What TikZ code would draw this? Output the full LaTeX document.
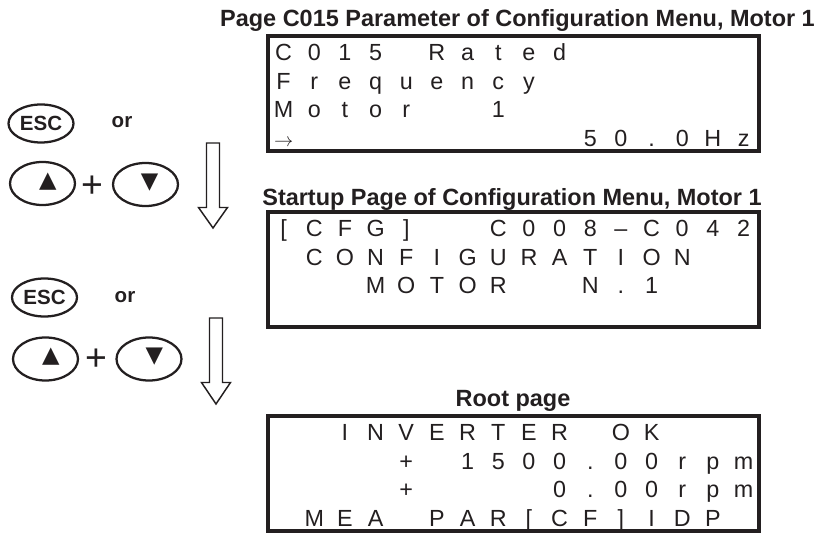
\documentclass[tikz,border=0pt]{standalone}
\usepackage{fontspec}
\setmainfont{Liberation Sans}
\newfontfamily\symfont{DejaVu Sans}
\usetikzlibrary{shapes}
\usetikzlibrary{positioning}
\definecolor{ink}{HTML}{231F20}
\newlength\lcdpitch
\setlength\lcdpitch{23pt}
\newcommand\rarr{{\fontsize{15pt}{15pt}\selectfont$\rightarrow$}}
\makeatletter
\def\lcdline#1{\rule[-4.2pt]{0pt}{21.4pt}\lcd@next#1\@nil}
\def\lcd@next#1{\ifx#1\@nil\else\makebox[\lcdpitch]{#1}\expandafter\lcd@next\fi}
\makeatother

\begin{document}
\begin{tikzpicture}[x=0.75pt, y=-0.75pt, color=ink,
    frame/.style={draw=ink, line width=3pt, minimum width=368.25pt, minimum height=86.25pt, inner sep=0, outer sep=0},
    lcd/.style={anchor=north west, inner sep=0, align=left, font=\fontsize{17.5pt}{21.4pt}\selectfont},
    head/.style={anchor=base, inner sep=0, font=\bfseries\fontsize{17.6pt}{20pt}\selectfont},
    key/.style={ellipse, draw=ink, line width=1.7pt, inner sep=0, minimum width=48.75pt, minimum height=32.25pt},
    esc/.style={key, minimum height=28.5pt, font=\bfseries\fontsize{15.4pt}{18pt}\selectfont},
    word/.style={inner sep=0, font=\bfseries\fontsize{15.4pt}{18pt}\selectfont},
    plus/.style={inner sep=0, font=\fontsize{28pt}{30pt}\selectfont},
    tri/.style={inner sep=0, font=\symfont\fontsize{17pt}{19pt}\selectfont},
    hollow/.style={draw=ink, line width=1.1pt, fill=white, line join=miter}]
    \useasboundingbox (0,0) rectangle (817,534);

    \node[head] (h1) at (517.5,27) {Page C015 Parameter of Configuration Menu, Motor 1};
    \node[frame] (f1) at (513.5,93.5) {};
    \node[lcd] (l1) at ([yshift=-1pt]f1.north west) {\lcdline{C015~Rated}\\ \lcdline{Frequency}\\ \lcdline{Motor~~1}\\ \lcdline{\rarr~~~~~~~~~50.0Hz}};

    \node[head] (h2) at (512,206) {Startup Page of Configuration Menu, Motor 1};
    \node[frame] (f2) at (513.5,269.5) {};
    \node[lcd] (l2) at ([yshift=-1pt]f2.north west) {\lcdline{[CFG]~~C008–C042}\\ \lcdline{~CONFIGURATION}\\ \lcdline{~~~MOTOR~~N.1}};

    \node[head] (h3) at (513,406.5) {Root page};
    \node[frame] (f3) at (513.5,473.5) {};
    \node[lcd] (l3) at ([yshift=-1pt]f3.north west) {\lcdline{~~INVERTER~OK}\\ \lcdline{~~~~+~1500.00rpm}\\ \lcdline{~~~~+~~~~0.00rpm}\\ \lcdline{~MEA~PAR[CF]IDP}};

    \node[esc] (e1) at (41,123.5) {ESC};
    \node[word] (o1) at (122,122) {or};
    \node[key] (u1) at (42.5,183.5) {};
    \node[tri] (tu1) at ([xshift=4pt, yshift=1.5pt]u1.center) {▲};
    \node[plus] (p1) at (92,187) {+};
    \node[key] (d1) at (145.5,184.5) {};
    \node[tri] (td1) at ([xshift=3pt, yshift=1.5pt]d1.center) {▼};
    \coordinate (a1) at (213,143);
    \draw[hollow] (a1) ++(-6.5,0) -- ++(0,64.5) -- ++(-8,0) -- ++(14.5,20.5) -- ++(14.5,-20.5) -- ++(-8,0) -- ++(0,-64.5) -- cycle;

    \node[esc] (e2) at (44.5,297.5) {ESC};
    \node[word] (o2) at (125,297) {or};
    \node[key] (u2) at (45.5,359) {};
    \node[tri] (tu2) at ([xshift=4pt, yshift=1.5pt]u2.center) {▲};
    \node[plus] (p2) at (96,360) {+};
    \node[key] (d2) at (149,359) {};
    \node[tri] (td2) at ([xshift=4pt, yshift=1.5pt]d2.center) {▼};
    \coordinate (a2) at (216,318);
    \draw[hollow] (a2) ++(-6.5,0) -- ++(0,64.5) -- ++(-8,0) -- ++(14.5,21.5) -- ++(14.5,-21.5) -- ++(-8,0) -- ++(0,-64.5) -- cycle;
\end{tikzpicture}
\end{document}
